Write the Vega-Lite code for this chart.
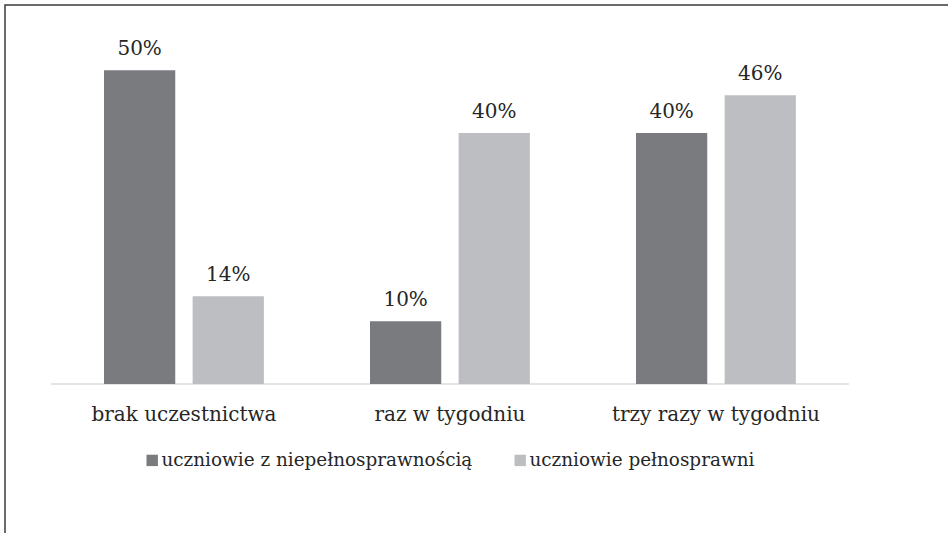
{
  "$schema": "https://vega.github.io/schema/vega-lite/v6.json",
  "width": 950,
  "height": 535,
  "autosize": {"type": "none"},
  "padding": {"left": 5, "top": 5, "right": -7, "bottom": -7},
  "background": "white",
  "config": {
    "view": {"stroke": "#3a3a3a", "strokeWidth": 1.5},
    "font": "DejaVu Serif"
  },
  "data": {"values": [
      {"kategoria": "brak uczestnictwa", "grupa": "uczniowie z niepełnosprawnością", "udzial": 0.50},
      {"kategoria": "brak uczestnictwa", "grupa": "uczniowie pełnosprawni", "udzial": 0.14},
      {"kategoria": "raz w tygodniu", "grupa": "uczniowie z niepełnosprawnością", "udzial": 0.10},
      {"kategoria": "raz w tygodniu", "grupa": "uczniowie pełnosprawni", "udzial": 0.40},
      {"kategoria": "trzy razy w tygodniu", "grupa": "uczniowie z niepełnosprawnością", "udzial": 0.40},
      {"kategoria": "trzy razy w tygodniu", "grupa": "uczniowie pełnosprawni", "udzial": 0.46}
  ]},
  "encoding": {
    "x": {
      "field": "kategoria", "type": "nominal",
      "sort": ["brak uczestnictwa", "raz w tygodniu", "trzy razy w tygodniu"],
      "scale": {"paddingInner": 0.399, "paddingOuter": 0.48521, "align": 0.38353},
      "axis": {
        "orient": "bottom", "offset": -156, "domain": false, "ticks": false,
        "labelAngle": 0, "labelFontSize": 20, "labelColor": "#262626",
        "labelBaseline": "alphabetic", "labelPadding": 36, "title": null,
        "labelLimit": 0, "grid": false
      }
    },
    "y": {
      "field": "udzial", "type": "quantitative",
      "scale": {"domain": [-0.24861, 0.60398], "nice": false, "zero": false},
      "axis": null
    }
  },
  "layer": [
    {
      "transform": [{"filter": "datum.grupa === 'uczniowie pełnosprawni'"}],
      "mark": {"type": "tick", "color": "#d9d9d9", "thickness": 2, "size": 266},
      "encoding": {
        "y": {"datum": 0, "type": "quantitative"}
      }
    },
    {
      "mark": {"type": "bar"},
      "encoding": {
        "xOffset": {
          "field": "grupa", "type": "nominal",
          "sort": ["uczniowie z niepełnosprawnością", "uczniowie pełnosprawni"],
          "scale": {"paddingInner": 0.196, "paddingOuter": 0}
        },
        "y2": {"datum": 0},
        "color": {
          "field": "grupa", "type": "nominal",
          "sort": ["uczniowie z niepełnosprawnością", "uczniowie pełnosprawni"],
          "scale": {"domain": ["uczniowie z niepełnosprawnością", "uczniowie pełnosprawni"], "range": ["#7a7b7f", "#bdbec2"]},
          "legend": {
            "orient": "none", "legendX": 138, "legendY": 446, "direction": "horizontal",
            "title": null, "symbolType": "square", "symbolSize": 130,
            "labelFontSize": 18.4, "labelLimit": 0, "labelColor": "#262626",
            "columnPadding": 38, "labelOffset": 0, "symbolStrokeWidth": 0, "padding": 0
          }
        }
      }
    },
    {
      "mark": {"type": "text", "dy": -15, "baseline": "alphabetic", "fontSize": 20, "color": "#262626"},
      "encoding": {
        "xOffset": {
          "field": "grupa", "type": "nominal",
          "sort": ["uczniowie z niepełnosprawnością", "uczniowie pełnosprawni"]
        },
        "text": {"field": "udzial", "type": "quantitative", "format": ".0%"}
      }
    }
  ]
}
